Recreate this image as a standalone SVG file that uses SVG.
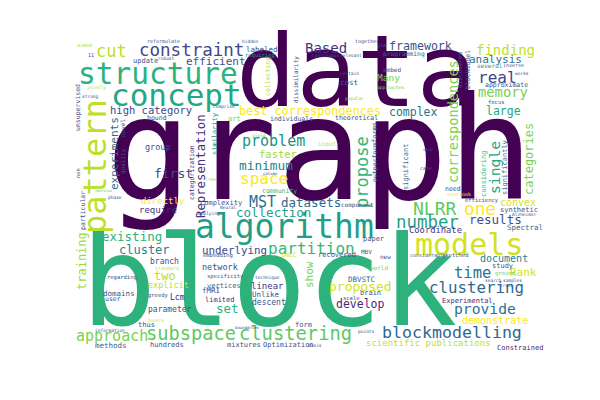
<svg xmlns="http://www.w3.org/2000/svg" width="600" height="400" viewBox="0 0 600 400">
<style>
text{font-family:"DejaVu Sans Mono","Liberation Mono",monospace}
.c0{fill:#440154}.c1{fill:#482878}.c2{fill:#3e4989}.c3{fill:#31688e}.c4{fill:#2c728e}.c5{fill:#26828e}.c6{fill:#21918c}.c7{fill:#1f9e89}.c8{fill:#22a884}.c9{fill:#2db27d}.c10{fill:#35b779}.c11{fill:#5ec962}.c12{fill:#7ad151}.c13{fill:#a0da39}.c14{fill:#bddf26}.c15{fill:#d2e21b}.c16{fill:#fde725}.c17{fill:#3b528b}.c18{fill:#46327e}
</style>
<rect width="600" height="400" fill="#ffffff"/>
<g id="large">
<text class="c0" x="106" y="199" font-size="142">graph</text>
<text class="c0" x="236" y="106" font-size="100">data</text>
<text class="c9" x="81" y="325" font-size="125">block</text>
<text class="c7" x="195" y="238" font-size="33">algorithm</text>
<text class="c9" x="78" y="84" font-size="29.5">structure</text>
<text class="c8" x="111" y="106" font-size="31">concept</text>
<text class="c15" x="415" y="255" font-size="30">models</text>
<text class="c14" transform="translate(106,234) rotate(-90)" font-size="32">pattern</text>
</g>
<g id="medium">
<text class="c2" x="139" y="56" font-size="17.5">constraint</text>
<text class="c14" x="96" y="57" font-size="17">cut</text>
<text class="c17" x="186" y="65" font-size="11">efficient</text>
<text class="c2" x="110" y="114" font-size="10.5">high category</text>
<text class="c18" x="305" y="53" font-size="14">Based</text>
<text class="c16" x="239" y="115" font-size="11.8">best correspondences</text>
<text class="c17" x="389" y="50" font-size="11.6">framework</text>
<text class="c14" x="476" y="55" font-size="14">finding</text>
<text class="c4" x="469" y="63" font-size="11">analysis</text>
<text class="c2" x="478" y="83" font-size="16">real</text>
<text class="c12" x="377" y="81" font-size="9.5">Many</text>
<text class="c12" x="478" y="97" font-size="13.8">memory</text>
<text class="c8" x="486" y="115" font-size="11.5">large</text>
<text class="c4" x="389" y="116" font-size="11.5">complex</text>
<text class="c6" x="242" y="146" font-size="15">problem</text>
<text class="c13" x="259" y="158" font-size="10.5">faster</text>
<text class="c5" x="239" y="170" font-size="12.8">minimum</text>
<text class="c16" x="240" y="184" font-size="16">space</text>
<text class="c4" x="249" y="207" font-size="15">MST</text>
<text class="c3" x="281" y="207" font-size="12.5">datasets</text>
<text class="c7" x="236" y="217" font-size="12.5">collection</text>
<text class="c10" x="268" y="254" font-size="16">partition</text>
<text class="c2" x="202" y="254" font-size="10.8">underlying</text>
<text class="c9" x="102" y="241" font-size="12.5">existing</text>
<text class="c5" x="119" y="254" font-size="12">cluster</text>
<text class="c2" x="154" y="178" font-size="13">first</text>
<text class="c17" x="145" y="150" font-size="8.5">group</text>
<text class="c16" x="141" y="204" font-size="9">directly</text>
<text class="c18" x="139" y="213" font-size="9">require</text>
<text class="c11" x="413" y="215" font-size="18">NLRR</text>
<text class="c16" x="464" y="215" font-size="17.7">one</text>
<text class="c15" x="500" y="206" font-size="10">convex</text>
<text class="c7" x="396" y="228" font-size="17.4">number</text>
<text class="c17" x="469" y="224" font-size="12.5">results</text>
<text class="c18" x="409" y="233" font-size="8.8">Coordinate</text>
<text class="c5" x="480" y="262" font-size="10">document</text>
<text class="c4" x="454" y="278" font-size="15.5">time</text>
<text class="c15" x="510" y="276" font-size="11">Rank</text>
<text class="c3" x="429" y="293" font-size="15.8">clustering</text>
<text class="c4" x="454" y="314" font-size="14.7">provide</text>
<text class="c16" x="462" y="324" font-size="10">demonstrate</text>
<text class="c3" x="382" y="338" font-size="16.6">blockmodelling</text>
<text class="c14" x="366" y="346" font-size="9">scientific publications</text>
<text class="c15" x="329" y="291" font-size="13">proposed</text>
<text class="c1" x="336" y="308" font-size="11.5">develop</text>
<text class="c18" x="251" y="289" font-size="9">linear</text>
<text class="c17" x="252" y="297" font-size="7.5">Unlike</text>
<text class="c17" x="252" y="305" font-size="8">descent</text>
<text class="c11" x="239" y="340" font-size="18.8">clustering</text>
<text class="c11" x="146" y="340" font-size="18.7">subspace</text>
<text class="c12" x="76" y="341" font-size="15">approach</text>
<text class="c14" x="154" y="280" font-size="12">two</text>
<text class="c14" x="148" y="288" font-size="8.5">explicit</text>
<text class="c17" x="103" y="296" font-size="7.5">domains</text>
<text class="c9" x="216" y="313" font-size="12.5">set</text>
<text class="c17" x="150" y="264" font-size="8">branch</text>
<text class="c17" x="148" y="312" font-size="8">parameter</text>
<text class="c17" x="202" y="270" font-size="8.5">network</text>
</g>
<g id="vertical">
<text class="c17" transform="translate(80,131) rotate(-90)" font-size="6.5">unsupervised</text>
<text class="c3" transform="translate(118,190) rotate(-90)" font-size="11">experiments</text>
<text class="c17" transform="translate(125,137) rotate(-90)" font-size="6">novel</text>
<text class="c18" transform="translate(205,218) rotate(-90)" font-size="12.3">Representation</text>
<text class="c6" transform="translate(217,155) rotate(-90)" font-size="7">similarity</text>
<text class="c1" transform="translate(194,200) rotate(-90)" font-size="6.5">categorization</text>
<text class="c17" transform="translate(125,174) rotate(-90)" font-size="6">quality</text>
<text class="c17" transform="translate(80,178) rotate(-90)" font-size="5.5">non</text>
<text class="c17" transform="translate(85,230) rotate(-90)" font-size="6.5">particular</text>
<text class="c13" transform="translate(86,290) rotate(-90)" font-size="12">training</text>
<text class="c17" transform="translate(298,103) rotate(-90)" font-size="6">dissimilarity</text>
<text class="c14" transform="translate(270,96) rotate(-90)" font-size="6.5">collecting</text>
<text class="c10" transform="translate(368,208) rotate(-90)" font-size="17">propose</text>
<text class="c12" transform="translate(458,183) rotate(-90)" font-size="13.6">correspondences</text>
<text class="c17" transform="translate(377,143) rotate(-90)" font-size="7">forms</text>
<text class="c17" transform="translate(470,89) rotate(-90)" font-size="6.5">blockmodel</text>
<text class="c17" transform="translate(462,88) rotate(-90)" font-size="6">discovered</text>
<text class="c17" transform="translate(377,182) rotate(-90)" font-size="6.5">outperform</text>
<text class="c3" transform="translate(408,190) rotate(-90)" font-size="7">significant</text>
<text class="c10" transform="translate(486,197) rotate(-90)" font-size="7">considering</text>
<text class="c8" transform="translate(500,194) rotate(-90)" font-size="14.7">single</text>
<text class="c3" transform="translate(507,195) rotate(-90)" font-size="7">significantly</text>
<text class="c12" transform="translate(533,195) rotate(-90)" font-size="12">categories</text>
<text class="c12" transform="translate(313,288) rotate(-90)" font-size="11">show</text>
</g>
<g id="small">
<text class="c17" x="133" y="63" font-size="7">update</text>
<text class="c17" x="158" y="60" font-size="4.5">robust</text>
<text class="c17" x="147" y="43" font-size="5">reformulate</text>
<text class="c13" x="77" y="47" font-size="5">aimed</text>
<text class="c17" x="88" y="57" font-size="5">11</text>
<text class="c13" x="87" y="89" font-size="4.5">jointly</text>
<text class="c17" x="82" y="98" font-size="4.5">strong</text>
<text class="c17" x="147" y="120" font-size="6.5">bound</text>
<text class="c17" x="242" y="43" font-size="4.5">hidden</text>
<text class="c17" x="246" y="52" font-size="7.5">labeled</text>
<text class="c6" x="245" y="57" font-size="5.5">requiring</text>
<text class="c17" x="355" y="43" font-size="5">together</text>
<text class="c17" x="312" y="57" font-size="4.5">continuous</text>
<text class="c3" x="340" y="57" font-size="4.5">relevant</text>
<text class="c17" x="340" y="75" font-size="4.5">certain</text>
<text class="c17" x="340" y="85" font-size="7.5">cost</text>
<text class="c12" x="345" y="100" font-size="4.5">popular</text>
<text class="c17" x="213" y="108" font-size="4.5">comprise</text>
<text class="c12" x="228" y="121" font-size="7">art</text>
<text class="c17" x="270" y="121" font-size="6.5">individuals</text>
<text class="c17" x="335" y="120" font-size="6.5">theoretical</text>
<text class="c12" x="252" y="137" font-size="4.5">yield</text>
<text class="c15" x="318" y="146" font-size="6">input</text>
<text class="c17" x="377" y="47" font-size="5">via</text>
<text class="c3" x="383" y="56" font-size="6.3">programming</text>
<text class="c6" x="477" y="68" font-size="6">several</text>
<text class="c17" x="503" y="67" font-size="5">inverse</text>
<text class="c17" x="515" y="75" font-size="4.5">works</text>
<text class="c17" x="383" y="72" font-size="6">embed</text>
<text class="c12" x="377" y="89" font-size="4.5">approaches</text>
<text class="c17" x="485" y="87" font-size="6.5">approximate</text>
<text class="c17" x="488" y="104" font-size="5.5">focus</text>
<text class="c17" x="263" y="175" font-size="4">column</text>
<text class="c10" x="262" y="193" font-size="6.5">community</text>
<text class="c17" x="200" y="205" font-size="7">complexity</text>
<text class="c17" x="220" y="209" font-size="4.5">Neural</text>
<text class="c17" x="198" y="215" font-size="4.5">Applying</text>
<text class="c17" x="341" y="207" font-size="6">component</text>
<text class="c17" x="108" y="199" font-size="4.5">phase</text>
<text class="c12" x="95" y="192" font-size="3.5">improved</text>
<text class="c12" x="205" y="181" font-size="4.5">Tree</text>
<text class="c17" x="465" y="202" font-size="5.5">efficiency</text>
<text class="c17" x="445" y="191" font-size="6.5">need</text>
<text class="c16" x="447" y="196" font-size="5">overlook</text>
<text class="c17" x="420" y="170" font-size="5">case</text>
<text class="c17" x="423" y="151" font-size="4">skip</text>
<text class="c17" x="500" y="212" font-size="7">synthetic</text>
<text class="c17" x="512" y="216" font-size="4.5">Alzheimer</text>
<text class="c3" x="507" y="230" font-size="7.5">Spectral</text>
<text class="c17" x="363" y="241" font-size="7">paper</text>
<text class="c3" x="361" y="254" font-size="6">MBV</text>
<text class="c17" x="380" y="259" font-size="6">new</text>
<text class="c12" x="370" y="270" font-size="6">world</text>
<text class="c17" x="318" y="257" font-size="7">recovered</text>
<text class="c15" x="282" y="257" font-size="6">UNLC</text>
<text class="c17" x="410" y="257" font-size="5">considerably</text>
<text class="c17" x="442" y="257" font-size="5.5">sketched</text>
<text class="c17" x="492" y="268" font-size="7">study</text>
<text class="c12" x="495" y="275" font-size="5.5">ground</text>
<text class="c17" x="485" y="282" font-size="4.5">search</text>
<text class="c17" x="503" y="282" font-size="4.5">samples</text>
<text class="c17" x="500" y="287" font-size="4.5">truth</text>
<text class="c1" x="442" y="303" font-size="7">Experimental</text>
<text class="c1" x="497" y="350" font-size="7">Constrained</text>
<text class="c3" x="348" y="282" font-size="7.5">DBVSTC</text>
<text class="c17" x="343" y="300" font-size="5.5">scale</text>
<text class="c17" x="360" y="295" font-size="7">brain</text>
<text class="c17" x="255" y="279" font-size="4.5">technique</text>
<text class="c17" x="295" y="327" font-size="7">form</text>
<text class="c17" x="358" y="333" font-size="4.5">points</text>
<text class="c3" x="95" y="348" font-size="7.5">methods</text>
<text class="c17" x="150" y="347" font-size="7">hundreds</text>
<text class="c17" x="227" y="347" font-size="7">mixtures</text>
<text class="c17" x="263" y="347" font-size="7">Optimization</text>
<text class="c17" x="308" y="347" font-size="4.5">basis</text>
<text class="c17" x="235" y="329" font-size="4">boundaries</text>
<text class="c17" x="95" y="332" font-size="4.5">information</text>
<text class="c15" x="155" y="270" font-size="5">standard</text>
<text class="c17" x="107" y="279" font-size="5.5">regarding</text>
<text class="c17" x="105" y="301" font-size="6.5">user</text>
<text class="c17" x="148" y="297" font-size="5.5">greedy</text>
<text class="c1" x="170" y="300" font-size="8">Lcm</text>
<text class="c15" x="148" y="322" font-size="4.5">boosts</text>
<text class="c17" x="138" y="327" font-size="7">thus</text>
<text class="c17" x="203" y="257" font-size="5.5">embedding</text>
<text class="c3" x="207" y="278" font-size="5.5">specificity</text>
<text class="c3" x="207" y="288" font-size="7">vertices</text>
<text class="c17" x="202" y="293" font-size="7.5">fMRI</text>
<text class="c1" x="205" y="302" font-size="7">limited</text>
</g>
</svg>
